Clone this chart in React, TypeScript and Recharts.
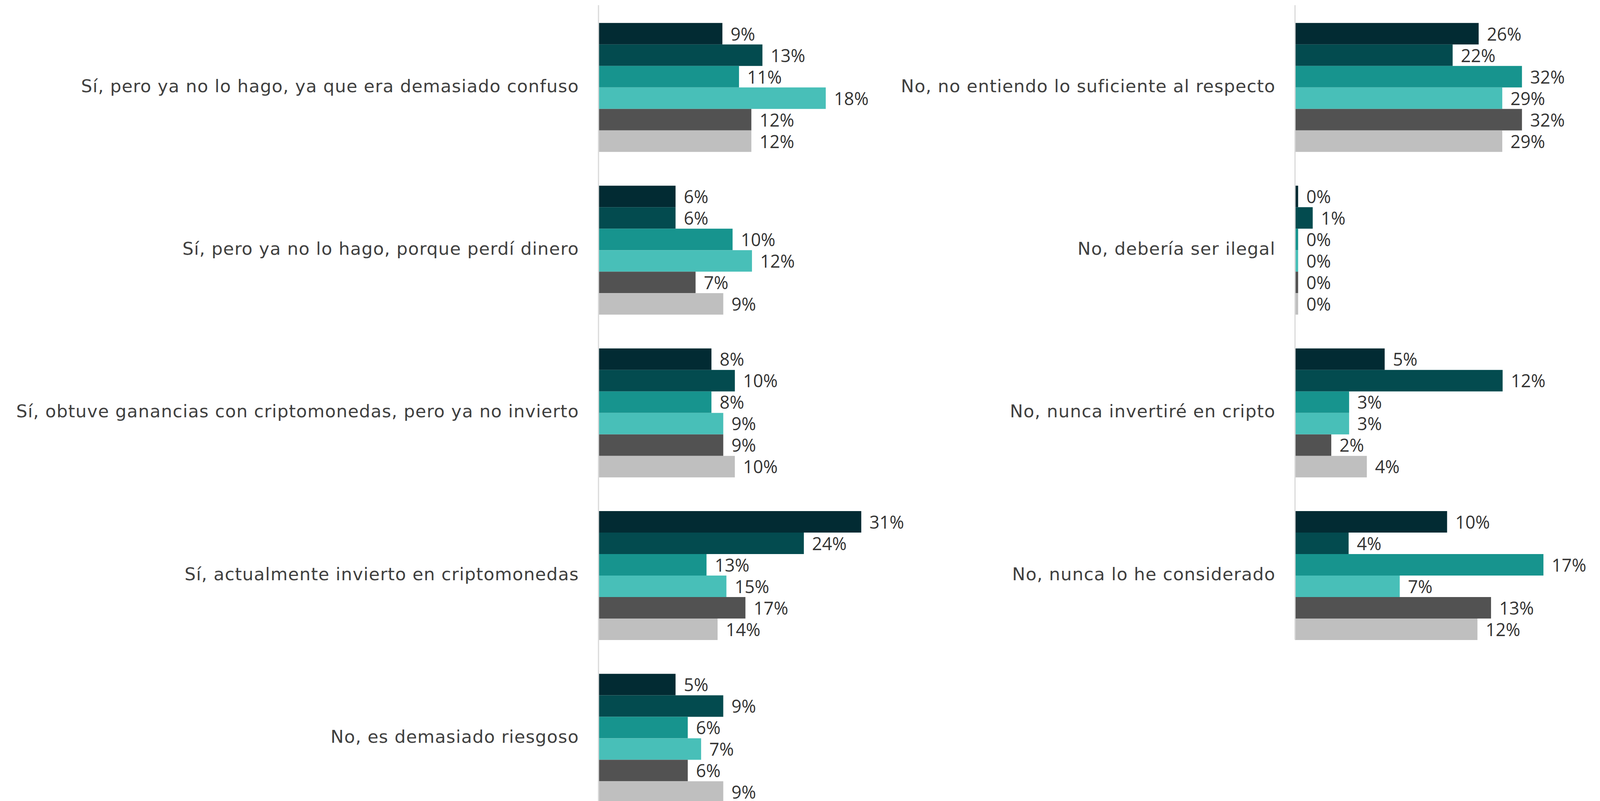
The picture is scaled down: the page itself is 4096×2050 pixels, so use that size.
import React from 'react';
import { BarChart, Bar, XAxis, YAxis, LabelList } from 'recharts';

// ---------- categories ----------
const leftCategories = [
  'Sí, pero ya no lo hago, ya que era demasiado confuso',
  'Sí, pero ya no lo hago, porque perdí dinero',
  'Sí, obtuve ganancias con criptomonedas, pero ya no invierto',
  'Sí, actualmente invierto en criptomonedas',
  'No, es demasiado riesgoso',
];
const rightCategories = [
  'No, no entiendo lo suficiente al respecto',
  'No, debería ser ilegal',
  'No, nunca invertiré en cripto',
  'No, nunca lo he considerado',
];

// ---------- bar lengths as drawn (left panel units) ----------
const leftSerie1 = [9.84, 6.12, 8.97, 20.87, 6.12];
const leftSerie2 = [13.02, 6.12, 10.83, 16.31, 9.91];
const leftSerie3 = [11.16, 10.65, 8.97, 8.58, 7.09];
const leftSerie4 = [18.05, 12.19, 9.91, 10.16, 8.15];
const leftSerie5 = [12.14, 7.71, 9.91, 11.67, 7.09];
const leftSerie6 = [12.14, 9.91, 10.83, 9.46, 9.91];

// ---------- data labels (left panel) ----------
const leftLabels1 = ['9%', '6%', '8%', '31%', '5%'];
const leftLabels2 = ['13%', '6%', '10%', '24%', '9%'];
const leftLabels3 = ['11%', '10%', '8%', '13%', '6%'];
const leftLabels4 = ['18%', '12%', '9%', '15%', '7%'];
const leftLabels5 = ['12%', '7%', '9%', '17%', '6%'];
const leftLabels6 = ['12%', '9%', '10%', '14%', '9%'];

// ---------- bar lengths as drawn (right panel units) ----------
const rightSerie1 = [25.83, 0.44, 12.61, 21.39];
const rightSerie2 = [22.17, 2.49, 29.2, 7.54];
const rightSerie3 = [31.92, 0.44, 7.61, 34.94];
const rightSerie4 = [29.15, 0.44, 7.61, 14.73];
const rightSerie5 = [31.92, 0.44, 5.1, 27.57];
const rightSerie6 = [29.15, 0.44, 10.1, 25.66];

// ---------- data labels (right panel) ----------
const rightLabels1 = ['26%', '0%', '5%', '10%'];
const rightLabels2 = ['22%', '1%', '12%', '4%'];
const rightLabels3 = ['32%', '0%', '3%', '17%'];
const rightLabels4 = ['29%', '0%', '3%', '7%'];
const rightLabels5 = ['32%', '0%', '2%', '13%'];
const rightLabels6 = ['29%', '0%', '4%', '12%'];

const seriesColors = ['#022B33', '#034B4F', '#17948E', '#48BFB8', '#525252', '#BFBFBF'];

const leftValues = [leftSerie1, leftSerie2, leftSerie3, leftSerie4, leftSerie5, leftSerie6];
const leftLabelSets = [leftLabels1, leftLabels2, leftLabels3, leftLabels4, leftLabels5, leftLabels6];
const rightValues = [rightSerie1, rightSerie2, rightSerie3, rightSerie4, rightSerie5, rightSerie6];
const rightLabelSets = [rightLabels1, rightLabels2, rightLabels3, rightLabels4, rightLabels5, rightLabels6];

const buildRows = (cats: string[], vals: number[][], labs: string[][]) =>
  cats.map((name, i) => {
    const row: Record<string, any> = { name };
    vals.forEach((arr, k) => {
      row['v' + k] = arr[i];
      row['l' + k] = labs[k][i];
    });
    return row;
  });

const leftData = buildRows(leftCategories, leftValues, leftLabelSets);
const rightData = buildRows(rightCategories, rightValues, rightLabelSets);

// ---------- layout ----------
const S = 0.948;
const W = 4096;
const H = 2050;
const AXIS_TOP = 14 * S;
const BAND_START = 16.7 * S;
const BAND = 439.25 * S;
const PAD_TOP = BAND_START - AXIS_TOP;
const BAR_SIZE = 55;

const LEFT_AXIS_X = 1616.2 * S;
const LEFT_PX = 34.0 * S;
const LEFT_MAX = 30;
const LEFT_W = LEFT_AXIS_X + LEFT_MAX * LEFT_PX;
const LEFT_H = 2110;
const LEFT_PAD_BOTTOM = LEFT_H - (BAND_START + 5 * BAND);

const RIGHT_AXIS_X = 3497.1 * S;
const RIGHT_PX = 19.2 * S;
const RIGHT_MAX = 42;
const RIGHT_W = RIGHT_AXIS_X + RIGHT_MAX * RIGHT_PX;
const RIGHT_PLOT_BOTTOM = 1726.7 * S;
const RIGHT_EXTRA = 60;
const RIGHT_H = RIGHT_PLOT_BOTTOM + RIGHT_EXTRA;
const RIGHT_PAD_BOTTOM = RIGHT_PLOT_BOTTOM - (BAND_START + 4 * BAND);

const TEXT_FONT = '"DejaVu Sans", sans-serif';
const NUM_FONT = '"Open Sans", sans-serif';
const FONT_SIZE = 45;
const CAT_DY = 11.6;
const TICK_MARGIN = 50;
const LABEL_GAP = 21;
const LABEL_DY = 17.2;

const CategoryTick = (props: any) => {
  const { x, y, payload } = props;
  return (
    <text
      x={x}
      y={Number(y) + CAT_DY}
      textAnchor="end"
      fill="#404040"
      fontFamily={TEXT_FONT}
      fontSize={FONT_SIZE}
      letterSpacing={1.2}
    >
      {payload.value}
    </text>
  );
};

const renderValueLabel = (props: any) => {
  const vb = props.viewBox && props.viewBox.width !== undefined ? props.viewBox : props;
  const x = Number(vb.x);
  const y = Number(vb.y);
  const w = Number(vb.width);
  const h = Number(vb.height);
  return (
    <text
      x={x + w + LABEL_GAP}
      y={y + h / 2 + LABEL_DY}
      fill="#333333"
      fontFamily={NUM_FONT}
      fontSize={FONT_SIZE}
    >
      {props.value}
    </text>
  );
};

const Panel = ({
  data,
  width,
  height,
  bottomMargin,
  axisX,
  maxValue,
  padBottom,
}: {
  data: any[];
  width: number;
  height: number;
  bottomMargin: number;
  axisX: number;
  maxValue: number;
  padBottom: number;
}) => (
  <BarChart
    width={width}
    height={height}
    data={data}
    layout="vertical"
    margin={{ top: AXIS_TOP, right: 0, bottom: bottomMargin, left: 0 }}
    barGap={0}
  >
    <XAxis type="number" domain={[0, maxValue]} hide />
    <YAxis
      type="category"
      dataKey="name"
      width={axisX}
      interval={0}
      padding={{ top: PAD_TOP, bottom: padBottom }}
      axisLine={{ stroke: '#D9D9D9', strokeWidth: 3 }}
      tickLine={false}
      tickSize={0}
      tickMargin={TICK_MARGIN}
      tick={CategoryTick}
    />
    {seriesColors.map((c, k) => (
      <Bar key={k} dataKey={'v' + k} fill={c} barSize={BAR_SIZE} isAnimationActive={false}>
        <LabelList dataKey={'l' + k} content={renderValueLabel} />
      </Bar>
    ))}
  </BarChart>
);

export default function App() {
  return (
    <div
      style={{
        position: 'fixed',
        left: 0,
        top: 0,
        width: W,
        height: H,
        overflow: 'hidden',
        background: '#ffffff',
      }}
    >
      <div style={{ position: 'absolute', left: 0, top: 0 }}>
        <Panel
          data={leftData}
          width={LEFT_W}
          height={LEFT_H}
          bottomMargin={0}
          axisX={LEFT_AXIS_X}
          maxValue={LEFT_MAX}
          padBottom={LEFT_PAD_BOTTOM}
        />
      </div>
      <div style={{ position: 'absolute', left: 0, top: 0 }}>
        <Panel
          data={rightData}
          width={RIGHT_W}
          height={RIGHT_H}
          bottomMargin={RIGHT_EXTRA}
          axisX={RIGHT_AXIS_X}
          maxValue={RIGHT_MAX}
          padBottom={RIGHT_PAD_BOTTOM}
        />
      </div>
    </div>
  );
}
